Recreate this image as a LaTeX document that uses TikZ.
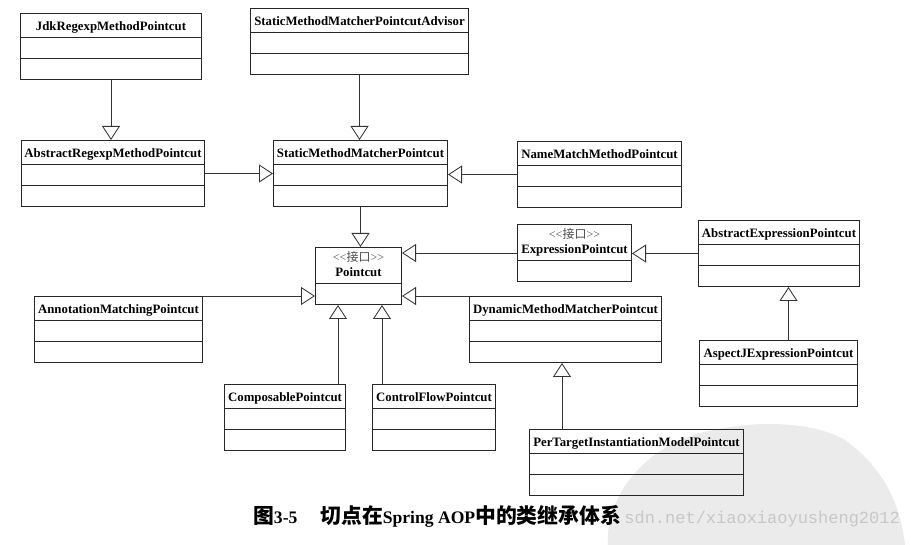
\documentclass[tikz,border=0pt]{standalone}
\usepackage{fontspec}
\setmainfont{Liberation Serif}
\newfontfamily\cjk{Noto Sans CJK SC}
\newfontfamily\wmfont{Liberation Mono}
\usetikzlibrary{shapes}
\usetikzlibrary{positioning}
\usetikzlibrary{arrows.meta}
\newcommand{\clshead}{\rule[-6.5pt]{0pt}{23pt}}
\newcommand{\clspart}{\rule{0pt}{20pt}}
\newcommand{\stereo}[1]{{\mdseries\color{black!70}\fontsize{12}{13}\selectfont #1}}
\newcommand{\iface}[1]{\rule{0pt}{14pt}\stereo{<\kern0pt<{\cjk 接口}>\kern0pt>}\\\rule[-6pt]{0pt}{6pt}#1}
\newcommand{\capcjk}[1]{{\cjk\fontsize{20.8}{22}\selectfont #1}}
\tikzset{
    myclass/.style = {rectangle split, rectangle split parts=3, draw=black!85, line width=1pt, align=center, inner xsep=0pt, inner ysep=0pt, anchor=north west, minimum width=#1, font=\bfseries\fontsize{12.8}{15}\selectfont, text=black},
    myiface/.style = {myclass=#1, rectangle split parts=2},
    edgei/.style = {-{Triangle[open,length=14pt,width=18pt]}, line width=0.85pt, black!80}, % inheritance
    mycaption/.style = {anchor=base, inner sep=0pt, font=\bfseries\fontsize{17.6}{20}\selectfont},
    mywmark/.style = {anchor=base east, inner sep=0pt, text=black!22, font=\wmfont\fontsize{17}{20}\selectfont},
    mystamp/.style = {fill=black!8, draw=none}
}
\begin{document}
\begin{tikzpicture}[x=1pt, y=-1pt]
\useasboundingbox (0,0) rectangle (911,545);
%
\fill[mystamp] (608,545) .. controls (605,500) and (640,450) .. (700,433) .. controls (750,420) and (810,420) .. (845,440) .. controls (880,465) and (900,500) .. (905,545) -- cycle;
\node[mywmark] at (900,523) (wm) {sdn.net/xiaoxiaoyusheng2012};
%
\node[myclass=181] at (20,13) (jdk) {\clshead JdkRegexpMethodPointcut\nodepart{two}\clspart\nodepart{three}\clspart};
\node[myclass=218] at (250,8) (adv) {\clshead StaticMethodMatcherPointcutAdvisor\nodepart{two}\clspart\nodepart{three}\clspart};
\node[myclass=183] at (21,140) (abre) {\clshead AbstractRegexpMethodPointcut\nodepart{two}\clspart\nodepart{three}\clspart};
\node[myclass=174] at (273,140) (smp) {\clshead StaticMethodMatcherPointcut\nodepart{two}\clspart\nodepart{three}\clspart};
\node[myclass=164] at (517,141) (nmm) {\clshead NameMatchMethodPointcut\nodepart{two}\clspart\nodepart{three}\clspart};
\node[myiface=86] at (315,247) (pc) {\iface{Pointcut}\nodepart{two}\clspart};
\node[myiface=114] at (517,224) (expr) {\iface{ExpressionPointcut}\nodepart{two}\clspart};
\node[myclass=161] at (698,220) (aexp) {\clshead AbstractExpressionPointcut\nodepart{two}\clspart\nodepart{three}\clspart};
\node[myclass=168] at (34,296) (anno) {\clshead AnnotationMatchingPointcut\nodepart{two}\clspart\nodepart{three}\clspart};
\node[myclass=192] at (469,296) (dyn) {\clshead DynamicMethodMatcherPointcut\nodepart{two}\clspart\nodepart{three}\clspart};
\node[myclass=158] at (699,340) (asp) {\clshead AspectJExpressionPointcut\nodepart{two}\clspart\nodepart{three}\clspart};
\node[myclass=121] at (224,384) (comp) {\clshead ComposablePointcut\nodepart{two}\clspart\nodepart{three}\clspart};
\node[myclass=123] at (372,384) (cf) {\clshead ControlFlowPointcut\nodepart{two}\clspart\nodepart{three}\clspart};
\node[myclass=214] at (529,429) (ptm) {\clshead PerTargetInstantiationModelPointcut\nodepart{two}\clspart\nodepart{three}\clspart};
%
\draw[edgei] (jdk.south) -- (jdk.south |- abre.north);
\draw[edgei] (adv.south) -- (adv.south |- smp.north);
\draw[edgei] (abre.east) -- (abre.east -| smp.west);
\draw[edgei] (nmm.west) -- (nmm.west -| smp.east);
\draw[edgei] (smp.south) -- (smp.south |- pc.north);
\draw[edgei] (expr.west) -- (expr.west -| pc.east);
\draw[edgei] (aexp.west) -- (aexp.west -| expr.east);
\draw[edgei] (anno.north east) -- (anno.north east -| pc.west);
\draw[edgei] (dyn.north west) -- (dyn.north west -| pc.east);
\draw[edgei] ([xshift=-8pt]comp.north east) -- ([xshift=-8pt]comp.north east |- pc.south);
\draw[edgei] ([xshift=10pt]cf.north west) -- ([xshift=10pt]cf.north west |- pc.south);
\draw[edgei] ([xshift=33pt]ptm.north west) -- ([xshift=33pt]ptm.north west |- dyn.south);
\draw[edgei] ([xshift=10pt]asp.north) -- ([xshift=10pt]asp.north |- aexp.south);
%
\node[mycaption] at (437,523) (cap) {\capcjk{图}3-5\hspace{23pt}\capcjk{切点在}Spring AOP\capcjk{中的类继承体系}};
\end{tikzpicture}
\end{document}
